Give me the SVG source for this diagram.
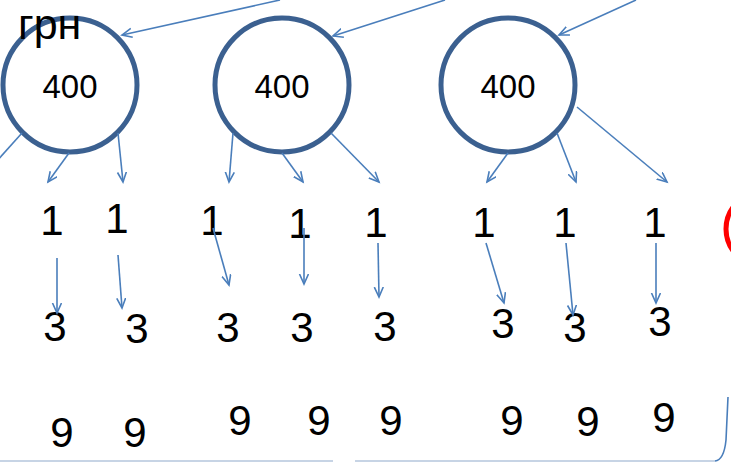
<svg xmlns="http://www.w3.org/2000/svg" width="731" height="462" viewBox="0 0 731 462">
<style>
.node{fill:#ffffff;stroke:#3b6090;stroke-width:5}
.t{font-family:"Liberation Sans",Arial,sans-serif;fill:#000;text-anchor:middle}
.big{font-size:42px}
.mid{font-size:33px}
.c{stroke:#4a7ebb;stroke-width:1.6;fill:none}
.a{marker-end:url(#ah)}
</style>
<defs>
<marker id="ah" markerUnits="userSpaceOnUse" markerWidth="14" markerHeight="14" refX="10" refY="5" orient="auto">
<path d="M0,0.5 L10,5 L0,9.5" fill="none" stroke="#4a7ebb" stroke-width="1.6"/>
</marker>
</defs>
<rect width="731" height="462" fill="#ffffff"/>
<g id="frame">
<path d="M0,461 L333,461" stroke="#b4c6dd" stroke-width="1.5" fill="none"/>
<path d="M355,461 L715,461" stroke="#b4c6dd" stroke-width="1.5" fill="none"/>
<path d="M715,461 Q724,460 726,440 L728,397" stroke="#4a7ebb" stroke-width="1.6" fill="none"/>
</g>
<g id="red-circle">
<circle cx="763" cy="229" r="37" fill="none" stroke="#ff0000" stroke-width="5"/>
</g>
<g id="node-c1"><circle class="node" cx="70" cy="85" r="67"/><text class="t mid" x="70" y="98">400</text></g>
<g id="node-c2"><circle class="node" cx="282" cy="85" r="67"/><text class="t mid" x="282" y="98">400</text></g>
<g id="node-c3"><circle class="node" cx="508" cy="85" r="67"/><text class="t mid" x="508" y="98">400</text></g>
<g id="label-grn"><text x="18" y="39" style="font-family:'Liberation Sans',Arial,sans-serif;font-size:43px;fill:#000">грн</text></g>
<g id="ones">
<text class="t big" x="52" y="235">1</text>
<text class="t big" x="117" y="233">1</text>
<text class="t big" x="212" y="235">1</text>
<text class="t big" x="300" y="238">1</text>
<text class="t big" x="376" y="237">1</text>
<text class="t big" x="484" y="237">1</text>
<text class="t big" x="565" y="237">1</text>
<text class="t big" x="655" y="237">1</text>
</g>
<g id="threes">
<text class="t big" x="55" y="341">3</text>
<text class="t big" x="137" y="343">3</text>
<text class="t big" x="228" y="342">3</text>
<text class="t big" x="302" y="342">3</text>
<text class="t big" x="385" y="341">3</text>
<text class="t big" x="503" y="338">3</text>
<text class="t big" x="575" y="342">3</text>
<text class="t big" x="660" y="336">3</text>
</g>
<g id="nines">
<text class="t big" x="62" y="447">9</text>
<text class="t big" x="135" y="447">9</text>
<text class="t big" x="240" y="435">9</text>
<text class="t big" x="319" y="435">9</text>
<text class="t big" x="391" y="435">9</text>
<text class="t big" x="512" y="435">9</text>
<text class="t big" x="588" y="436">9</text>
<text class="t big" x="664" y="432">9</text>
</g>
<g id="connectors">
<line class="c a" x1="280" y1="0" x2="122" y2="35"/>
<line class="c a" x1="445" y1="0" x2="333" y2="36"/>
<line class="c a" x1="636" y1="0" x2="559" y2="35"/>
<line class="c" x1="22" y1="133" x2="-4" y2="162"/>
<line class="c a" x1="69" y1="153" x2="48" y2="182"/>
<line class="c a" x1="118" y1="133" x2="123" y2="182"/>
<line class="c a" x1="233" y1="133" x2="229" y2="182"/>
<line class="c a" x1="282" y1="153" x2="303" y2="182"/>
<line class="c a" x1="331" y1="133" x2="379" y2="182"/>
<line class="c a" x1="508" y1="153" x2="487" y2="182"/>
<line class="c a" x1="557" y1="133" x2="576" y2="182"/>
<line class="c a" x1="577" y1="107" x2="667" y2="182"/>
<line class="c a" x1="57" y1="258" x2="57" y2="313"/>
<line class="c a" x1="118" y1="255" x2="122" y2="308"/>
<line class="c a" x1="213" y1="228" x2="229" y2="285"/>
<line class="c a" x1="304" y1="228" x2="304" y2="284"/>
<line class="c a" x1="378" y1="243" x2="379" y2="297"/>
<line class="c a" x1="486" y1="243" x2="504" y2="303"/>
<line class="c a" x1="566" y1="243" x2="573" y2="315"/>
<line class="c a" x1="656" y1="243" x2="656" y2="303"/>
</g>
</svg>
